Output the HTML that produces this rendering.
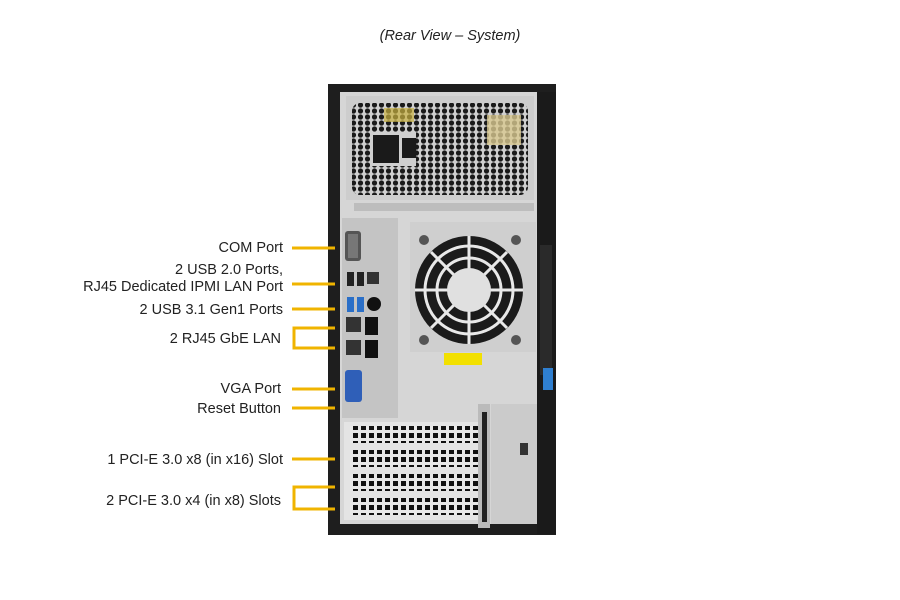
<!DOCTYPE html>
<html><head><style>
body{margin:0;background:#fff;width:900px;height:600px;overflow:hidden}
svg{display:block}
text{font-family:"Liberation Sans",Arial,sans-serif;font-size:14.5px;fill:#222}
</style></head><body>
<svg width="900" height="600" viewBox="0 0 900 600">
<defs>
<pattern id="hex" width="7" height="6" patternUnits="userSpaceOnUse">
<rect width="7" height="6" fill="#cfcfcf"/><circle cx="3.5" cy="3" r="2.6" fill="#1a1a1a"/>
</pattern>
<pattern id="slot" width="8" height="8" patternUnits="userSpaceOnUse">
<rect width="8" height="8" fill="#e8e8e8"/><rect x="1" y="1" width="5" height="5" fill="#111"/>
</pattern>
</defs>
<text x="450" y="40" text-anchor="middle" font-style="italic">(Rear View – System)</text>
<!-- chassis -->
<rect x="328" y="84" width="228" height="451" fill="#1e1e1e"/>
<rect x="340" y="92" width="200" height="432" fill="#d6d6d6"/>
<rect x="537" y="92" width="19" height="442" fill="#1a1a1a"/>
<rect x="540" y="245" width="12" height="130" fill="#2a2a2a"/>
<rect x="543" y="368" width="10" height="22" fill="#2f7fd0"/>
<!-- PSU -->
<rect x="346" y="96" width="188" height="104" fill="#cdcdcd"/>
<rect x="352" y="103" width="176" height="92" rx="8" fill="url(#hex)"/>
<rect x="384" y="108" width="30" height="14" fill="#c8b040" opacity=".7"/>
<rect x="487" y="115" width="34" height="30" fill="#d8c890" opacity=".8"/>
<rect x="370" y="132" width="46" height="34" fill="#cfcfcf"/>
<rect x="373" y="135" width="26" height="28" fill="#1a1a1a"/>
<rect x="402" y="138" width="14" height="20" fill="#1a1a1a"/>
<rect x="354" y="203" width="180" height="8" fill="#bdbdbd"/>
<!-- IO shield -->
<rect x="342" y="218" width="56" height="200" fill="#c4c4c4"/>
<rect x="345" y="231" width="16" height="30" rx="3" fill="#555"/>
<rect x="348" y="234" width="10" height="24" fill="#777"/>
<rect x="347" y="272" width="7" height="14" fill="#222"/>
<rect x="357" y="272" width="7" height="14" fill="#222"/>
<rect x="367" y="272" width="12" height="12" fill="#333"/>
<rect x="347" y="297" width="7" height="15" fill="#2a6fc8"/>
<rect x="357" y="297" width="7" height="15" fill="#2a6fc8"/>
<circle cx="374" cy="304" r="7" fill="#111"/>
<rect x="346" y="317" width="15" height="15" fill="#333"/>
<rect x="365" y="317" width="13" height="18" fill="#111"/>
<rect x="346" y="340" width="15" height="15" fill="#333"/>
<rect x="365" y="340" width="13" height="18" fill="#111"/>
<rect x="345" y="370" width="17" height="32" rx="3" fill="#2f5fb8"/>
<!-- fan -->
<rect x="410" y="222" width="126" height="130" fill="#cfcfcf"/>
<circle cx="469" cy="290" r="54" fill="#1b1b1b"/>
<circle cx="469" cy="290" r="44" fill="none" stroke="#e8e8e8" stroke-width="3"/>
<circle cx="469" cy="290" r="32" fill="none" stroke="#e8e8e8" stroke-width="3"/>
<g stroke="#e8e8e8" stroke-width="3">
<line x1="469" y1="236" x2="469" y2="344"/><line x1="415" y1="290" x2="523" y2="290"/>
<line x1="431" y1="252" x2="507" y2="328"/><line x1="507" y1="252" x2="431" y2="328"/>
</g>
<circle cx="469" cy="290" r="22" fill="#e0e0e0"/>
<circle cx="424" cy="240" r="5" fill="#555"/><circle cx="516" cy="240" r="5" fill="#555"/>
<circle cx="424" cy="340" r="5" fill="#555"/><circle cx="516" cy="340" r="5" fill="#555"/>
<rect x="444" y="353" width="38" height="12" fill="#f2e000"/>
<!-- PCI -->
<rect x="344" y="422" width="135" height="98" fill="#e4e4e4"/>
<rect x="350" y="426" width="128" height="17" fill="url(#slot)"/>
<rect x="350" y="450" width="128" height="17" fill="url(#slot)"/>
<rect x="350" y="474" width="128" height="17" fill="url(#slot)"/>
<rect x="350" y="498" width="128" height="17" fill="url(#slot)"/>
<rect x="478" y="404" width="12" height="124" fill="#bbb"/>
<rect x="482" y="412" width="5" height="110" fill="#222"/>
<rect x="491" y="404" width="46" height="120" fill="#cbcbcb"/>
<rect x="520" y="443" width="8" height="12" fill="#333"/>
<!-- labels -->
<g text-anchor="end">
<text x="283" y="252">COM Port</text>
<text x="283" y="274">2 USB 2.0 Ports,</text>
<text x="283" y="291">RJ45 Dedicated IPMI LAN Port</text>
<text x="283" y="314">2 USB 3.1 Gen1 Ports</text>
<text x="281" y="343">2 RJ45 GbE LAN</text>
<text x="281" y="393">VGA Port</text>
<text x="281" y="413">Reset Button</text>
<text x="283" y="464">1 PCI-E 3.0 x8 (in x16) Slot</text>
<text x="281" y="505">2 PCI-E 3.0 x4 (in x8) Slots</text>
</g>
<g stroke="#f0b400" stroke-width="3" fill="none">
<line x1="292" y1="248" x2="335" y2="248"/>
<line x1="292" y1="284" x2="335" y2="284"/>
<line x1="292" y1="309" x2="335" y2="309"/>
<polyline points="335,328 294,328 294,348 335,348"/>
<line x1="292" y1="389" x2="335" y2="389"/>
<line x1="292" y1="408" x2="335" y2="408"/>
<line x1="292" y1="459" x2="335" y2="459"/>
<polyline points="335,487 294,487 294,509 335,509"/>
</g>
</svg>
</body></html>
